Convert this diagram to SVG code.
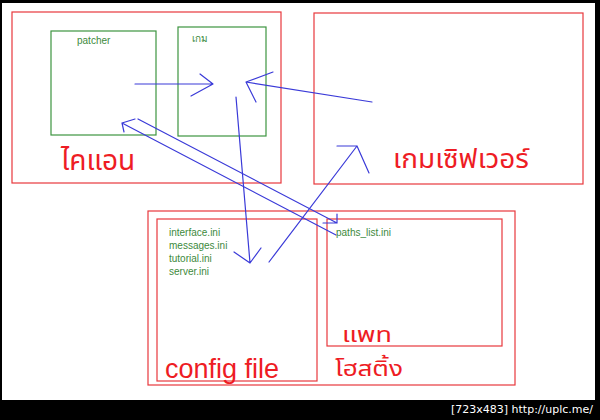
<svg xmlns="http://www.w3.org/2000/svg" width="600" height="420" viewBox="0 0 600 420">
<style>
.red{fill:none;stroke:#e8383c;stroke-width:1.2}
.grn{fill:none;stroke:#3d9440;stroke-width:1.2}
.small{font-family:"Liberation Sans",Arial,sans-serif;font-size:10px;fill:#3d8a3d}
.big{font-family:"Noto Sans Thai","Liberation Sans","Noto Sans",sans-serif;fill:#ee1c24}
.lat{font-family:"Liberation Sans",Arial,sans-serif;fill:#ee1c24}
.arrow{fill:none;stroke:#3a3ad8;stroke-width:1.2;stroke-linecap:round;stroke-linejoin:round}
</style>
<rect x="0" y="0" width="600" height="420" fill="#000"/>
<rect x="2" y="3" width="593" height="397" fill="#fff"/>
<g id="client">
<rect class="red" x="12" y="12" width="269" height="171"/>
<text class="big" x="61" y="170" font-size="28">ไคแอน</text>
</g>
<g id="patcher">
<rect class="grn" x="51" y="31" width="105" height="104"/>
<text class="small" x="77" y="44">patcher</text>
</g>
<g id="game">
<rect class="grn" x="178" y="27" width="88" height="109"/>
<text class="small" x="192" y="42" font-size="7">เกม</text>
</g>
<g id="server">
<rect class="red" x="314" y="13" width="269" height="171"/>
<text class="big" x="393" y="168" font-size="27" textLength="136" lengthAdjust="spacingAndGlyphs">เกมเซิฟเวอร์</text>
</g>
<g id="bottom">
<rect class="red" x="148" y="211" width="367" height="174"/>
</g>
<g id="config">
<rect class="red" x="157" y="219" width="160" height="162"/>
<text class="small" x="169" y="236">interface.ini</text>
<text class="small" x="169" y="249">messages.ini</text>
<text class="small" x="169" y="262">tutorial.ini</text>
<text class="small" x="169" y="275">server.ini</text>
<text class="lat" x="165" y="378" font-size="27">config file</text>
</g>
<g id="patchhost">
<rect class="red" x="327" y="219" width="175" height="127"/>
<text class="small" x="336" y="236">paths_list.ini</text>
<text class="big" x="342" y="342" font-size="22" textLength="50" lengthAdjust="spacingAndGlyphs">แพท</text>
<text class="big" x="335" y="376" font-size="22" textLength="68" lengthAdjust="spacingAndGlyphs">โฮสติ้ง</text>
</g>
<g id="connectors" class="arrow">
<path d="M135 84 L213 84 M200 74 L213 84 L191 96"/>
<path d="M372 102 L246 82 M273 72 L246 82 L256 102"/>
<path d="M236 97 L250 263 M234 252 L250 263 L261 248"/>
<path d="M269 262 L357 146 M337 146 L357 146 L369 173"/>
<path d="M138 119 L337 223 M323 223 L337 223 L337 214"/>
<path d="M336 235 L122 123 M135 119 L122 123 L124 132"/>
</g>
<text x="593" y="413" text-anchor="end" font-family="DejaVu Sans,sans-serif" font-size="11" fill="#fff">[723x483] http://uplc.me/</text>
</svg>
